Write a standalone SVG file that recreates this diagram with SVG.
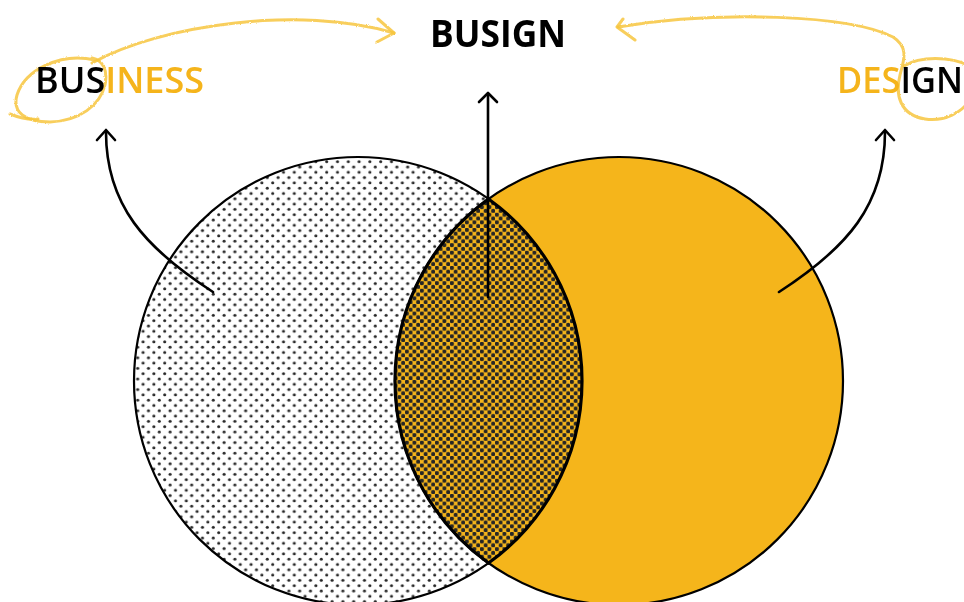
<svg xmlns="http://www.w3.org/2000/svg" width="964" height="602" viewBox="0 0 964 602">
  <defs>
    <style>
      .lbl { font-family: "Open Sans", "Noto Sans", "Liberation Sans", sans-serif; }
      .blk { fill: #000000; }
      .org { fill: #F5B41B; }
      .conn { fill: none; stroke: #000000; stroke-width: 2.6; stroke-linecap: round; stroke-linejoin: round; }
      .scribble { fill: none; stroke: #F7C53E; stroke-width: 3; stroke-linecap: round; stroke-linejoin: round; opacity: 0.85; }
    </style>
    <pattern id="dotsLight" width="10.8" height="10.6" patternUnits="userSpaceOnUse">
      <circle cx="2.7" cy="2.65" r="1.55" fill="#262626"/>
      <circle cx="8.1" cy="7.95" r="1.55" fill="#262626"/>
    </pattern>
    <pattern id="dotsDense" width="7.5" height="7.6" patternUnits="userSpaceOnUse">
      <rect width="7.5" height="7.6" fill="#F5B51B"/>
      <circle cx="1.9" cy="1.9" r="2.1" fill="#262626"/>
      <circle cx="5.65" cy="5.7" r="2.1" fill="#262626"/>
    </pattern>
    <filter id="pencil" x="-5%" y="-20%" width="110%" height="140%">
      <feTurbulence type="fractalNoise" baseFrequency="0.9" numOctaves="2" seed="3" result="n"/>
      <feDisplacementMap in="SourceGraphic" in2="n" scale="2.2" xChannelSelector="R" yChannelSelector="G"/>
    </filter>
  </defs>

  <rect width="964" height="602" fill="#ffffff"/>

  <g id="business-circle">
    <circle cx="358" cy="381" r="224" fill="#ffffff"/>
    <circle cx="358" cy="381" r="224" fill="url(#dotsLight)" stroke="#000000" stroke-width="2.2"/>
  </g>

  <g id="design-circle">
    <circle cx="619" cy="381" r="224" fill="#F5B51B" stroke="#000000" stroke-width="2.2"/>
  </g>

  <g id="busign-overlap">
    <path d="M488.5 198.94 A224 224 0 0 0 488.5 563.06 A224 224 0 0 0 488.5 198.94 Z" fill="url(#dotsDense)" stroke="#000000" stroke-width="3.2"/>
  </g>

  <g id="connectors">
    <path class="conn" d="M213 292 C145 248 106 205 106 132"/>
    <polyline class="conn" points="97,140 106,130 115,140"/>
    <path class="conn" d="M488 297 L488 94"/>
    <polyline class="conn" points="479,102 488,93 497,102"/>
    <path class="conn" d="M779 292 C847 248 885 205 885 132"/>
    <polyline class="conn" points="876,140 885,130 894,140"/>
  </g>

  <g id="scribbles" filter="url(#pencil)">
    <path class="scribble" d="M95 60 C60 52 25 70 17 95 C12 112 25 122 50 122 C80 121 100 105 105 85 C108 70 103 60 92 58"/>
    <path class="scribble" d="M10 114 C20 118 30 120 38 119"/>
    <path class="scribble" d="M92 63 C160 25 300 5 394 33"/>
    <polyline class="scribble" points="378,19 394,33 377,42"/>
    <path class="scribble" d="M618 27 C720 10 850 15 893 37 C910 48 903 62 900 75 C895 95 900 115 925 119 C945 122 962 112 970 100"/>
    <path class="scribble" d="M904 66 C920 56 950 56 970 66"/>
    <polyline class="scribble" points="623,19 617,27 635,40"/>
  </g>

  <g id="label-busign">
    <text class="lbl blk" x="498" y="47" font-size="37" font-weight="700" text-anchor="middle" textLength="136" lengthAdjust="spacingAndGlyphs">BUSIGN</text>
  </g>
  <g id="label-business">
    <text class="lbl" x="35" y="93" font-size="36" font-weight="600" textLength="169" lengthAdjust="spacingAndGlyphs"><tspan class="blk">BUS</tspan><tspan class="org">INESS</tspan></text>
  </g>
  <g id="label-design">
    <text class="lbl" x="837" y="93" font-size="36" font-weight="600" textLength="126" lengthAdjust="spacingAndGlyphs"><tspan class="org">DES</tspan><tspan class="blk">IGN</tspan></text>
  </g>
</svg>
